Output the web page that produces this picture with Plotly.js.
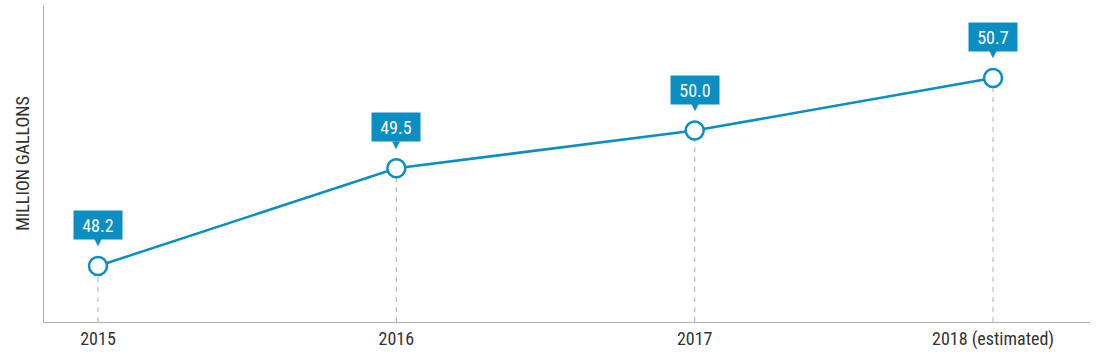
<!DOCTYPE html>
<html><head><meta charset="utf-8">
<script src="https://cdn.plot.ly/plotly-3.0.1.min.js"></script>
<style>body{margin:0;background:#fff}#c{width:1105px;height:361px}</style>
</head><body><div id="c"></div>
<script>
const categories = ["2015", "2016", "2017", "2018 (estimated)"];
const values = [48.2, 49.5, 50.0, 50.7];
const valueLabels = ["48.2", "49.5", "50.0", "50.7"];
const yTitle = "MILLION GALLONS";

const FONT = "'Liberation Sans Narrow', 'Roboto Condensed', Roboto, sans-serif";
const BLUE = "#0b8ec2";
const xs = categories.map((_, i) => i);
const yMin = 47.455, yMax = 51.67;

const traces = [];
xs.forEach((x, i) => {
  traces.push({x: [x, x], y: [yMin, values[i]], mode: "lines",
    line: {color: "#bdbdbd", width: 1.2, dash: "5px,5px"}, hoverinfo: "skip", showlegend: false});
});
traces.push({x: xs, y: values, mode: "lines+markers",
  line: {color: BLUE, width: 2.5},
  marker: {size: 18, color: "#fff", line: {color: BLUE, width: 2.5}},
  showlegend: false});

const annotations = [];
xs.forEach((x, i) => {
  annotations.push({x: x, y: values[i], xref: "x", yref: "y", text: valueLabels[i],
    showarrow: false, yshift: 41, bgcolor: BLUE, width: 44, height: 24, borderpad: 2,
    font: {family: FONT, size: 18, color: "#fff"}});
  annotations.push({x: x, y: values[i], xref: "x", yref: "y", text: "▼",
    showarrow: false, yshift: 24, font: {family: "DejaVu Sans", size: 10, color: BLUE}});
});

Plotly.newPlot("c", traces, {
  width: 1105, height: 361,
  margin: {l: 44, r: 15, t: 5, b: 39},
  paper_bgcolor: "#fff", plot_bgcolor: "#fff",
  xaxis: {range: [-0.181, 3.325], tickvals: xs, ticktext: categories, showgrid: false,
    zeroline: false, showline: true, linecolor: "#b0b0b0", linewidth: 1, ticks: "",
    tickfont: {family: FONT, size: 18, color: "#333"}},
  yaxis: {range: [yMin, yMax], showticklabels: false, showgrid: false, zeroline: false,
    showline: true, linecolor: "#b0b0b0", linewidth: 1, ticks: "",
    title: {text: yTitle, standoff: 8, font: {family: FONT, size: 18, color: "#333"}}},
  annotations: annotations
}, {displayModeBar: false, staticPlot: true});
</script></body></html>
